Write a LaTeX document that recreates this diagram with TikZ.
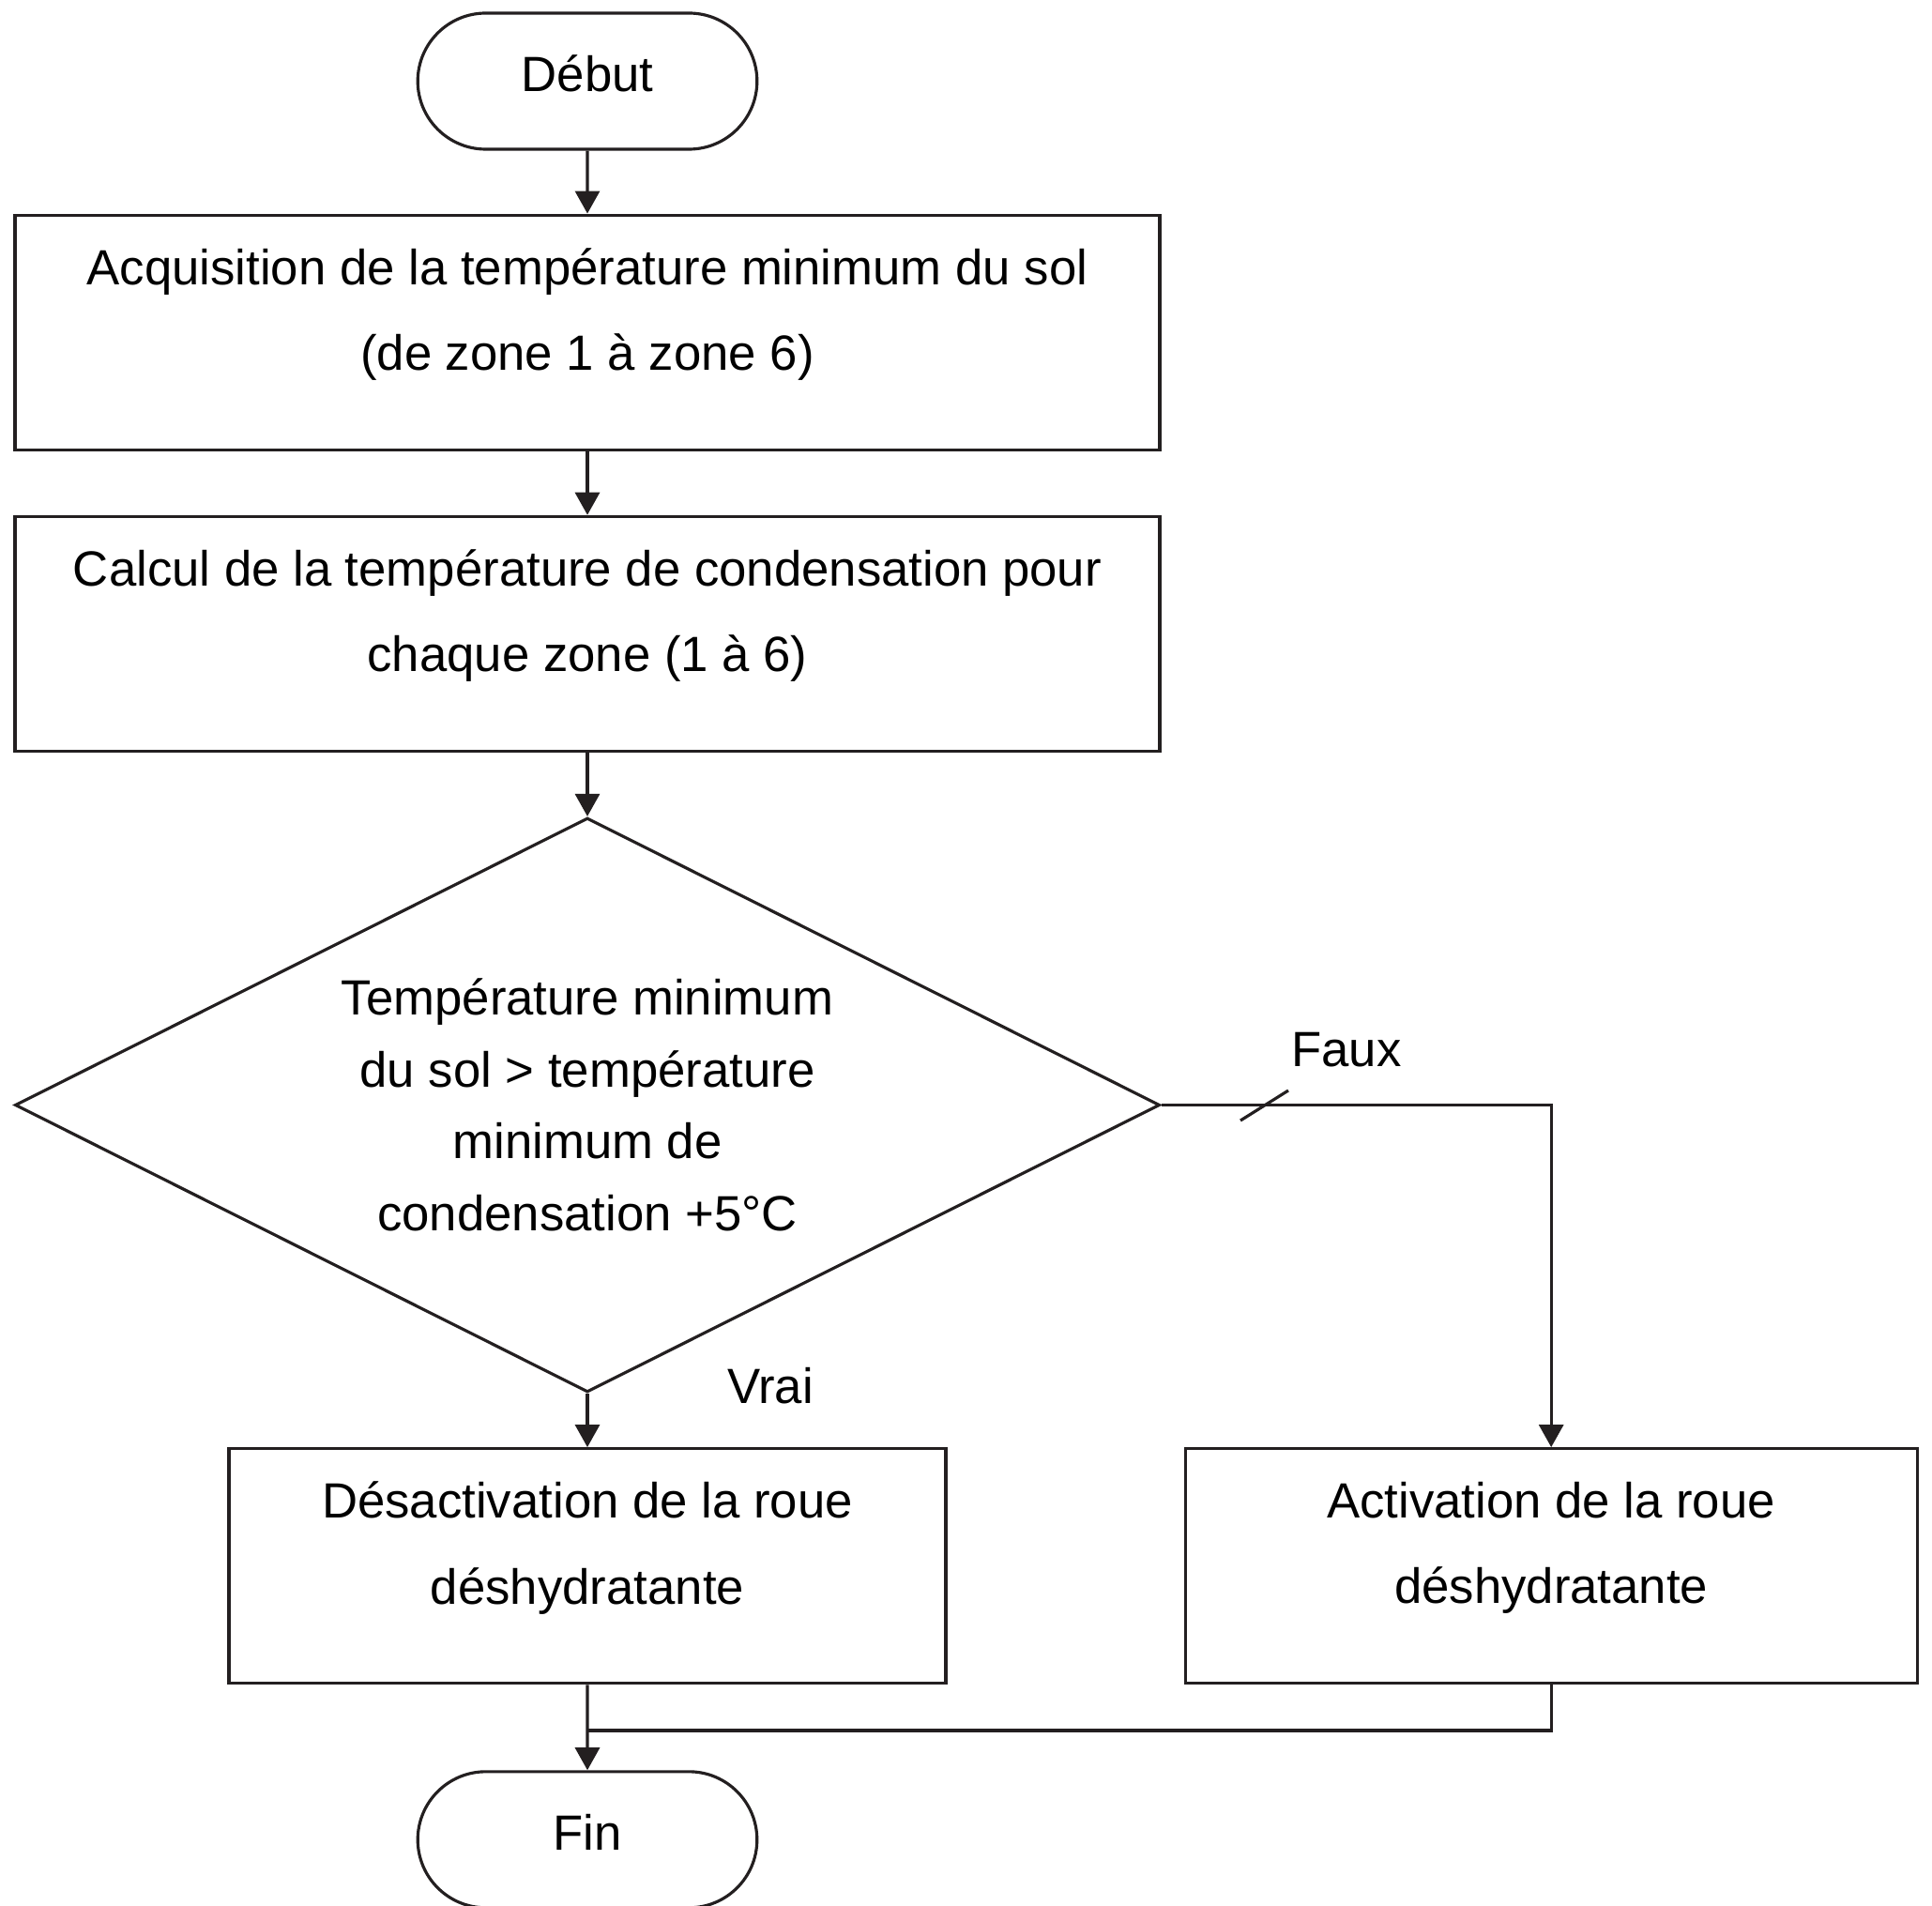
\documentclass[tikz,border=0pt]{standalone}
\usepackage{fontspec}
\setmainfont{Liberation Sans}
\usetikzlibrary{arrows.meta,positioning,shapes.geometric,shapes.misc}
\definecolor{trait}{HTML}{231F20}

\begin{document}
\begin{tikzpicture}[
  every node/.style={font=\fontsize{15}{26}\selectfont},
  terminal/.style={draw=trait,line width=0.9pt,rounded rectangle,minimum width=3.85cm,minimum height=1.45cm,
    text height=0.42cm,text depth=0.2cm},
  etape/.style={draw=trait,line width=0.9pt,rectangle,minimum height=2.5cm},
  texte/.style={align=center,inner sep=0pt},
  test/.style={draw=trait,line width=0.9pt,diamond,aspect=2,align=center,inner sep=0pt,
    minimum width=12.2cm,minimum height=6.12cm,font=\fontsize{15}{21.8}\selectfont},
  fleche/.style={draw=trait,line width=0.9pt,-{Triangle[length=0.24cm,width=0.26cm]}},
  lien/.style={draw=trait,line width=0.9pt}]
  \useasboundingbox (0,0) rectangle (20.59,-20.30);

  \node[terminal] (debut) at (6.26,-0.865) {Début};
  \node[etape,minimum width=12.2cm,below=0.67cm of debut] (acq) {};
  \node[texte] (acqtxt) at ([yshift=0.19cm]acq.center)
    {Acquisition de la température minimum du sol\\(de zone 1 à zone 6)};
  \node[etape,minimum width=12.2cm,below=0.68cm of acq] (calc) {};
  \node[texte] (calctxt) at ([yshift=0.19cm]calc.center)
    {Calcul de la température de condensation pour\\chaque zone (1 à 6)};
  \node[test,below=0.68cm of calc] (cond)
    {Température minimum\\du sol > température\\minimum de\\condensation +5°C};
  \node[etape,minimum width=7.64cm,below=0.57cm of cond] (desact) {};
  \node[texte] (desacttxt) at ([yshift=0.19cm]desact.center)
    {Désactivation de la roue\\déshydratante};
  \node[etape,minimum width=7.8cm,right=2.52cm of desact] (activ) {};
  \node[texte] (activtxt) at ([yshift=0.19cm]activ.center)
    {Activation de la roue\\déshydratante};
  \node[terminal,below=0.91cm of desact] (fin) {Fin};

  \node (faux) at (14.35,-11.19) {Faux};
  \node (vrai) at (8.21,-14.77) {Vrai};
  \coordinate (coupe) at (13.45,-11.79);
  \coordinate (jonction) at (desact.south |- 0,-18.44);

  \draw[fleche] (debut) -- (acq);
  \draw[fleche] (acq) -- (calc);
  \draw[fleche] (calc) -- (cond);
  \draw[fleche] (cond) -- (desact);
  \draw[fleche] (cond.east) -| (activ.north);
  \draw[lien] (coupe) +(-0.23,-0.15) -- +(0.28,0.17);
  \draw[fleche] (desact) -- (fin);
  \draw[lien] (activ.south) |- (jonction);
\end{tikzpicture}
\end{document}
